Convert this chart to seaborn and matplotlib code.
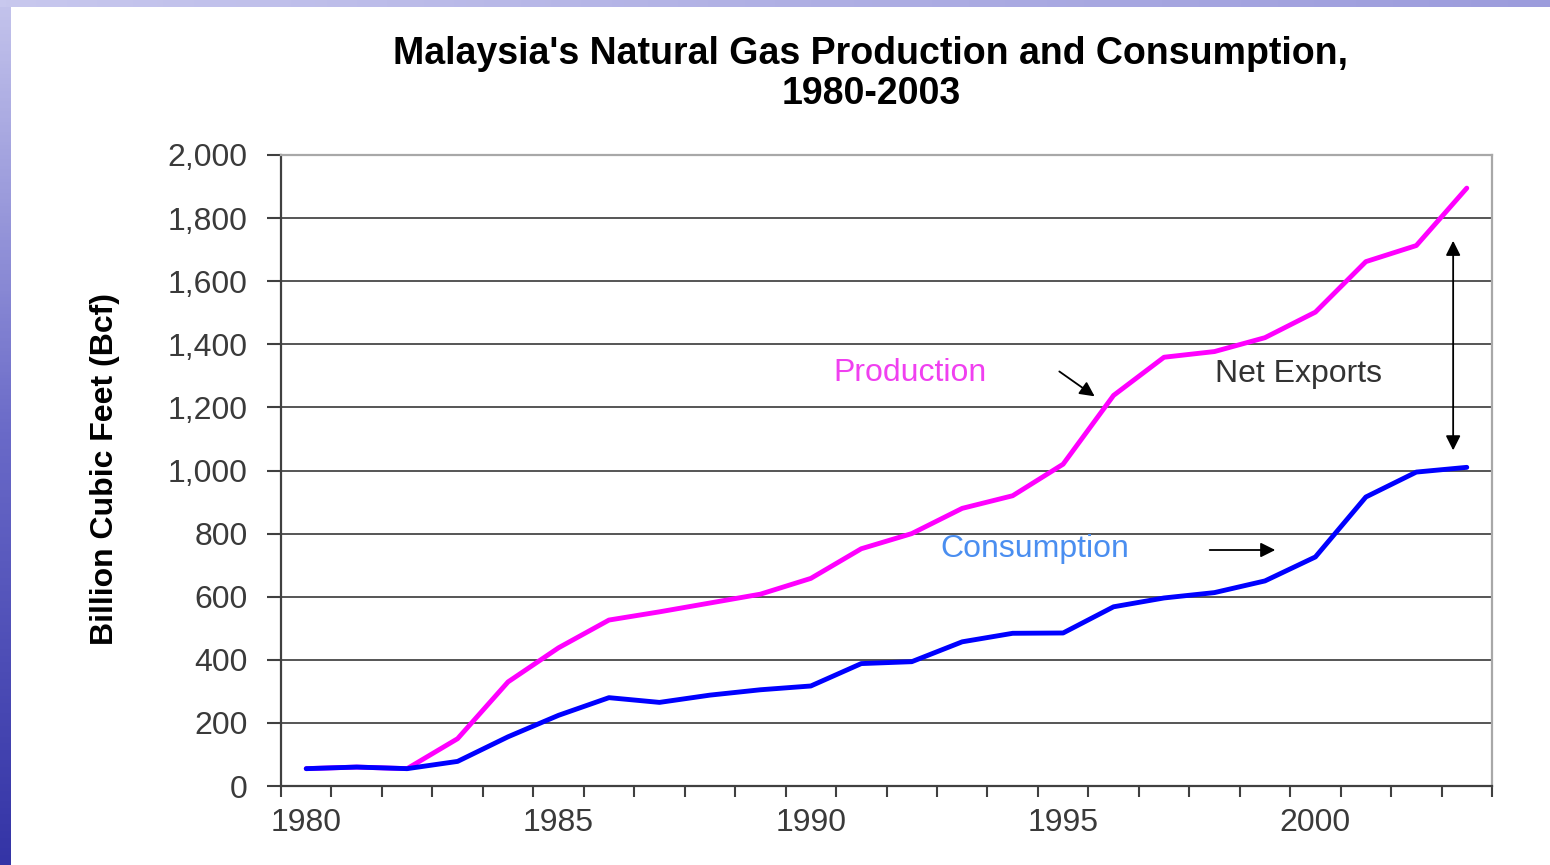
import numpy as np
import matplotlib
matplotlib.use("Agg")
import matplotlib.pyplot as plt
import seaborn as sns
from matplotlib.ticker import FixedLocator, FuncFormatter

# Malaysia natural gas, billion cubic feet
years = list(range(1980, 2004))
production = [55, 60, 55, 150, 330, 438, 526, 552, 580, 608, 658, 752,
              800, 880, 920, 1020, 1238, 1359, 1377, 1421, 1502, 1662, 1713, 1895]
consumption = [55, 60, 55, 78, 156, 224, 280, 265, 288, 305, 317, 388,
               394, 457, 484, 485, 568, 596, 613, 650, 726, 916, 995, 1010]
year_labels = [1980, 1985, 1990, 1995, 2000]
y_ticks = list(range(0, 2001, 200))

sns.set_theme(style="white")
plt.rcParams["font.family"] = ["Liberation Sans", "DejaVu Sans"]

fig = plt.figure(figsize=(15.5, 8.65), dpi=100)
fig.patch.set_facecolor("white")

# slide background strips (left and top)
left = fig.add_axes([0, 0, 11 / 1550, 1], zorder=-5)
grad = np.linspace(0, 1, 256).reshape(-1, 1)
cmap_l = matplotlib.colors.LinearSegmentedColormap.from_list("l", ["#c4c4ec", "#6a6ac8", "#3434a6"])
left.imshow(grad, aspect="auto", cmap=cmap_l, extent=[0, 1, 0, 1], origin="upper")
left.axis("off")
top = fig.add_axes([0, 1 - 7 / 865, 1, 7 / 865], zorder=-5)
cmap_t = matplotlib.colors.LinearSegmentedColormap.from_list("t", ["#c8c8ee", "#b0b0e4", "#9c9cdc"])
top.imshow(grad.T, aspect="auto", cmap=cmap_t, extent=[0, 1, 0, 1])
top.axis("off")

ax = fig.add_axes([281 / 1550, 1 - 786 / 865, (1492 - 281) / 1550, (786 - 155) / 865])
ax.set_facecolor("white")

sns.lineplot(x=years, y=production, ax=ax, color="#ff00ff", linewidth=3.5, zorder=3)
sns.lineplot(x=years, y=consumption, ax=ax, color="#0000ff", linewidth=3.5, zorder=4)

ax.set_xlim(1979.5, 2003.5)
ax.set_ylim(0, 2000)

ax.xaxis.set_major_locator(FixedLocator(year_labels))
ax.xaxis.set_minor_locator(FixedLocator([y - 0.5 for y in years] + [2003.5]))
ax.yaxis.set_major_locator(FixedLocator(y_ticks))
ax.yaxis.set_major_formatter(FuncFormatter(lambda v, p: f"{int(v):,}"))

ax.tick_params(axis="x", which="major", length=0, pad=16, labelsize=23, labelcolor="#3a3a3a")
ax.tick_params(axis="x", which="minor", bottom=True, length=8, width=1.5, color="#404040", direction="out")
ax.tick_params(axis="y", which="major", left=True, length=10, width=1.5, color="#404040",
               direction="out", pad=14, labelsize=23, labelcolor="#3a3a3a")

ax.grid(axis="y", color="#555555", linewidth=1.4)
ax.grid(axis="x", visible=False)
for s in ["left", "bottom"]:
    ax.spines[s].set_color("#404040")
    ax.spines[s].set_linewidth(1.6)
for s in ["top", "right"]:
    ax.spines[s].set_color("#a8a8a8")
    ax.spines[s].set_linewidth(1.6)

# annotations
ax.text(1990.44, 1309, "Production", color="#f040f0", fontsize=23, ha="left", va="center")
ax.annotate("", xy=(1995.67, 1230), xytext=(1994.88, 1319),
            arrowprops=dict(arrowstyle="-|>", color="black", lw=1.3, mutation_scale=22))
ax.text(1998.01, 1306, "Net Exports", color="#333333", fontsize=23, ha="left", va="center")
ax.annotate("", xy=(2002.73, 1055), xytext=(2002.73, 1737),
            arrowprops=dict(arrowstyle="<|-|>", color="black", lw=1.3, mutation_scale=22))
ax.text(1992.56, 751, "Consumption", color="#4a8ef0", fontsize=23, ha="left", va="center")
ax.annotate("", xy=(1999.26, 748), xytext=(1997.85, 748),
            arrowprops=dict(arrowstyle="-|>", color="black", lw=1.3, mutation_scale=22))

fig.text(871 / 1550, 1 - 74 / 865, "Malaysia's Natural Gas Production and Consumption,\n1980-2003",
         ha="center", va="center", fontsize=27, fontweight="bold", linespacing=1.12, color="black")
fig.text(105 / 1550, 1 - 469 / 865, "Billion Cubic Feet (Bcf)", rotation=90,
         ha="center", va="center", fontsize=23, fontweight="bold", color="black")

fig.savefig("out.png", dpi=100, facecolor=fig.get_facecolor())
